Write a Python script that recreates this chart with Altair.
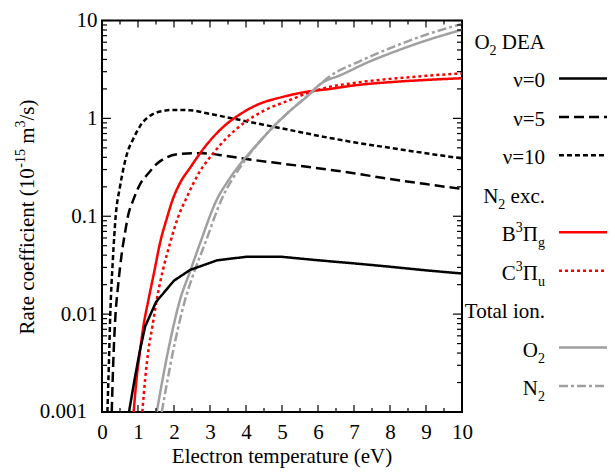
import re
import altair as alt
import pandas as pd

# ---------------- data ----------------
series = ["v0", "v5", "v10", "B", "C", "O2", "N2"]

v0_x = [0.75, 0.9, 1.05, 1.2, 1.5, 2.0, 2.45, 3.2, 4.0, 5.0, 6.0, 7.0, 8.0, 9.0, 10.0]
v0_y = [0.001, 0.0021, 0.0042, 0.0075, 0.0133, 0.022, 0.0283, 0.0355, 0.0385, 0.0385, 0.0355, 0.033, 0.0305, 0.028, 0.026]

v5_x = [0.27, 0.31, 0.36, 0.45, 0.55, 0.64, 0.72, 0.87, 1.05, 1.29, 1.55, 1.8, 2.1, 2.5, 2.8, 3.5, 4.0, 5.0, 6.0, 7.0, 8.0, 9.0, 10.0]
v5_y = [0.001, 0.003, 0.008, 0.02, 0.042, 0.068, 0.1, 0.147, 0.21, 0.275, 0.35, 0.40, 0.43, 0.44, 0.44, 0.41, 0.385, 0.345, 0.31, 0.275, 0.24, 0.213, 0.19]

v10_x = [0.15, 0.19, 0.23, 0.3, 0.38, 0.5, 0.7, 0.87, 1.1, 1.4, 1.7, 2.0, 2.44, 3.0, 4.0, 5.0, 6.0, 7.0, 8.0, 9.0, 10.0]
v10_y = [0.001, 0.003, 0.01, 0.035, 0.1, 0.2, 0.44, 0.62, 0.88, 1.1, 1.19, 1.22, 1.21, 1.11, 0.935, 0.79, 0.665, 0.57, 0.50, 0.44, 0.39]

B_x = [0.88, 0.95, 1.06, 1.15, 1.29, 1.45, 1.61, 1.8, 1.96, 2.2, 2.44, 2.8, 3.37, 3.8, 4.3, 5.0, 5.69, 6.33, 7.0, 8.19, 9.0, 10.0]
B_y = [0.001, 0.002, 0.0043, 0.0075, 0.014, 0.027, 0.053, 0.095, 0.147, 0.23, 0.31, 0.48, 0.82, 1.08, 1.37, 1.65, 1.87, 2.0, 2.17, 2.37, 2.47, 2.57]

C_x = [1.12, 1.2, 1.29, 1.4, 1.52, 1.7, 1.89, 2.1, 2.35, 2.7, 3.09, 3.5, 3.93, 4.5, 5.22, 5.69, 6.33, 7.0, 8.19, 9.0, 10.0]
C_y = [0.001, 0.0022, 0.0043, 0.0075, 0.014, 0.029, 0.053, 0.095, 0.155, 0.28, 0.44, 0.65, 0.89, 1.2, 1.54, 1.8, 2.1, 2.3, 2.57, 2.72, 2.89]

O2_x = [1.52, 1.84, 2.17, 2.44, 2.72, 3.19, 3.5, 3.93, 4.35, 4.76, 5.2, 5.69, 6.1, 6.61, 7.4, 8.19, 9.0, 10.0]
O2_y = [0.001, 0.00427, 0.0141, 0.0269, 0.0525, 0.148, 0.229, 0.376, 0.562, 0.822, 1.175, 1.667, 2.29, 2.75, 3.76, 4.9, 6.24, 8.04]

N2_x = [1.66, 1.98, 2.31, 2.58, 2.86, 3.32, 3.93, 4.35, 4.76, 5.2, 5.69, 6.33, 7.2, 8.19, 9.0, 10.0]
N2_y = [0.001, 0.00427, 0.0141, 0.0282, 0.0525, 0.148, 0.355, 0.562, 0.822, 1.175, 1.68, 2.69, 3.89, 5.56, 7.16, 9.23]

# legend entries: label and the series it shows (None for a heading)
legend_labels = ["O_{2} DEA", "\u03bd=0", "\u03bd=5", "\u03bd=10", "N_{2} exc.",
                 "B^{3}\u03a0_{g}", "C^{3}\u03a0_{u}", "Total ion.", "O_{2}", "N_{2}"]
legend_series = [None, "v0", "v5", "v10", None, "B", "C", None, "O2", "N2"]

x_title = "Electron temperature (eV)"
y_title = "Rate coefficient (10^{-15} m^{3}/s)"

x_major = list(range(0, 11))
x_minor = [i + 0.5 for i in range(10)]
y_major = [0.001, 0.01, 0.1, 1, 10]
y_corner = [0.001]                        # corner label, drawn a little to the left
y_minor = [k * 10.0 ** d for d in range(-3, 1) for k in range(2, 10)]

# ---------------- styling ----------------
FONT = "Liberation Serif, Times New Roman, serif"
FS, FS_SMALL = 21, 14
W, H = 360, 391.5
colors = ["black", "black", "black", "#ff0000", "#ff0000", "#a0a0a0", "#a0a0a0"]
dashes = [[1, 0], [10, 5], [5, 3], [1, 0], [3, 3], [1, 0], [9, 3, 3, 3]]
widths = [2.5, 2.5, 2.5, 2.5, 3, 2.5, 2.5]

# Times / Liberation Serif advance widths (per 1000 em)
ADV = {' ': 250, '(': 333, ')': 333, '.': 250, '/': 278, '=': 564, '-': 333,
       'A': 722, 'B': 667, 'C': 667, 'D': 722, 'E': 611, 'N': 722, 'O': 722,
       'R': 667, 'T': 611, 'a': 444, 'c': 444, 'e': 444, 'f': 333, 'g': 500,
       'i': 278, 'l': 278, 'm': 778, 'n': 500, 'o': 500, 's': 389, 't': 278,
       'u': 500, 'x': 500, '\u03bd': 500, '\u03a0': 722}


def tw(s, size):
    return sum(ADV.get(c, 500) for c in s) * size / 1000.0


def pieces(label):
    out = []
    for part in re.split(r"(\^\{[^}]*\}|_\{[^}]*\})", label):
        if not part:
            continue
        if part.startswith("^{"):
            out.append((part[2:-1], FS_SMALL, -9.0))
        elif part.startswith("_{"):
            out.append((part[2:-1], FS_SMALL, 6.0))
        else:
            out.append((part, FS, 0.0))
    return out


xs = alt.Scale(domain=[0, 10], nice=False, zero=False)
ys = alt.Scale(type="log", domain=[0.001, 10], nice=False)

# ---------------- curves ----------------
rows = []
for s, xv, yv in zip(series, [v0_x, v5_x, v10_x, B_x, C_x, O2_x, N2_x],
                     [v0_y, v5_y, v10_y, B_y, C_y, O2_y, N2_y]):
    for i, (a, b) in enumerate(zip(xv, yv)):
        rows.append({"series": s, "i": i, "T": a, "k": b})
curves = pd.DataFrame(rows)

color = alt.Color("series:N", scale=alt.Scale(domain=series, range=colors), legend=None)
dash = alt.StrokeDash("series:N", scale=alt.Scale(domain=series, range=dashes), legend=None)
swid = alt.StrokeWidth("series:N", scale=alt.Scale(domain=series, range=widths), legend=None)

axis_x = alt.Axis(values=x_major, format="d", title=None, grid=False, ticks=False, tickSize=0,
                  domain=False, labelFont=FONT, labelFontSize=FS, labelColor="black",
                  labelPadding=9, labelFlush=False, labelOverlap=False)
axis_y = alt.Axis(values=[v for v in y_major if v not in y_corner], format="~g", title=None,
                  grid=False, ticks=False, tickSize=0,
                  domain=False, labelFont=FONT, labelFontSize=FS, labelColor="black",
                  labelPadding=5, labelFlush=False, labelOverlap=False)

base = alt.Chart(curves)
smooth = base.transform_filter(alt.datum.series != "v0").mark_line(
    interpolate="monotone", clip=True, strokeCap="butt").encode(
    x=alt.X("T:Q", scale=xs, axis=axis_x),
    y=alt.Y("k:Q", scale=ys, axis=axis_y),
    color=color, strokeDash=dash, strokeWidth=swid, order="i:Q", detail="series:N")
straight = base.transform_filter(alt.datum.series == "v0").mark_line(
    clip=True, strokeJoin="round").encode(
    x=alt.X("T:Q", scale=xs, axis=axis_x),
    y=alt.Y("k:Q", scale=ys, axis=axis_y),
    color=color, strokeDash=dash, strokeWidth=swid, order="i:Q")

# corner tick label "0.001", set a little to the left of the others
corner = alt.Chart(pd.DataFrame({"k": y_corner})).mark_text(
    font=FONT, fontSize=FS, align="right", baseline="middle", dx=-15, color="black").encode(
    y=alt.Y("k:Q", scale=ys, axis=axis_y), x=alt.value(0), text=alt.Text("k:Q", format="~g"))


# ---------------- inside tick marks on all four sides ----------------
def xticks(vals, length):
    d = pd.DataFrame({"T": vals})
    bot = alt.Chart(d).mark_rule(color="black", strokeWidth=1.2).encode(
        x=alt.X("T:Q", scale=xs, axis=axis_x), y=alt.value(H), y2=alt.value(H - length))
    top = alt.Chart(d).mark_rule(color="black", strokeWidth=1.2).encode(
        x=alt.X("T:Q", scale=xs, axis=axis_x), y=alt.value(0), y2=alt.value(length))
    return [bot, top]


def yticks(vals, length):
    d = pd.DataFrame({"k": vals})
    left = alt.Chart(d).mark_rule(color="black", strokeWidth=1.2).encode(
        y=alt.Y("k:Q", scale=ys, axis=axis_y), x=alt.value(0), x2=alt.value(length))
    right = alt.Chart(d).mark_rule(color="black", strokeWidth=1.2).encode(
        y=alt.Y("k:Q", scale=ys, axis=axis_y), x=alt.value(W), x2=alt.value(W - length))
    return [left, right]


ticks = xticks(x_major, 7) + xticks(x_minor, 4) + yticks(y_major, 9) + yticks(y_minor, 5)


def text_piece(text, px, py, size, align, angle=0):
    return alt.Chart(pd.DataFrame({"txt": [text.strip()]})).mark_text(
        font=FONT, fontSize=size, align=align, baseline="alphabetic", angle=angle,
        color="black").encode(text="txt:N", x=alt.value(px), y=alt.value(py))


# ---------------- legend (right of the plot) ----------------
LEG_R = 443.0          # right edge of legend text, px from plot left
LEG_Y0, LEG_DY = 19.5, 38.45
legend_layers = []
for r, (lab, s) in enumerate(zip(legend_labels, legend_series)):
    yc = LEG_Y0 + LEG_DY * r
    right = LEG_R
    for text, size, shift in reversed(pieces(lab)):
        legend_layers.append(text_piece(text, right, yc + 9 + shift, size, "right"))
        right -= tw(text, size)
    if s is not None:
        legend_layers.append(
            alt.Chart(pd.DataFrame({"series": [s]})).mark_rule(strokeCap="butt").encode(
                x=alt.value(457), x2=alt.value(515), y=alt.value(yc),
                color=color, strokeDash=dash, strokeWidth=swid))

# ---------------- axis titles (text pieces, to allow superscripts) ----------------
title_layers = []
yp = pieces(y_title)
total = sum(tw(t, s) for t, s, _ in yp)
ypos = 196.5 + total / 2
for text, size, shift in yp:
    lead = tw(text[: len(text) - len(text.lstrip())], size)
    title_layers.append(text_piece(text, -68.5 + (shift if shift < 0 else 0), ypos - lead, size, "left", 270))
    ypos -= tw(text, size)
title_layers.append(text_piece(x_title, W / 2, 442.5, FS, "center"))

chart = alt.layer(smooth, straight, corner, *ticks, *legend_layers, *title_layers).properties(
    width=W, height=H,
    autosize=alt.AutoSizeParams(type="none"),
    padding={"left": 94, "top": 12.5, "right": 145, "bottom": 56},
).configure_view(stroke="black", strokeWidth=2)

chart.save("out.html", embed_options={"renderer": "svg", "actions": False})
